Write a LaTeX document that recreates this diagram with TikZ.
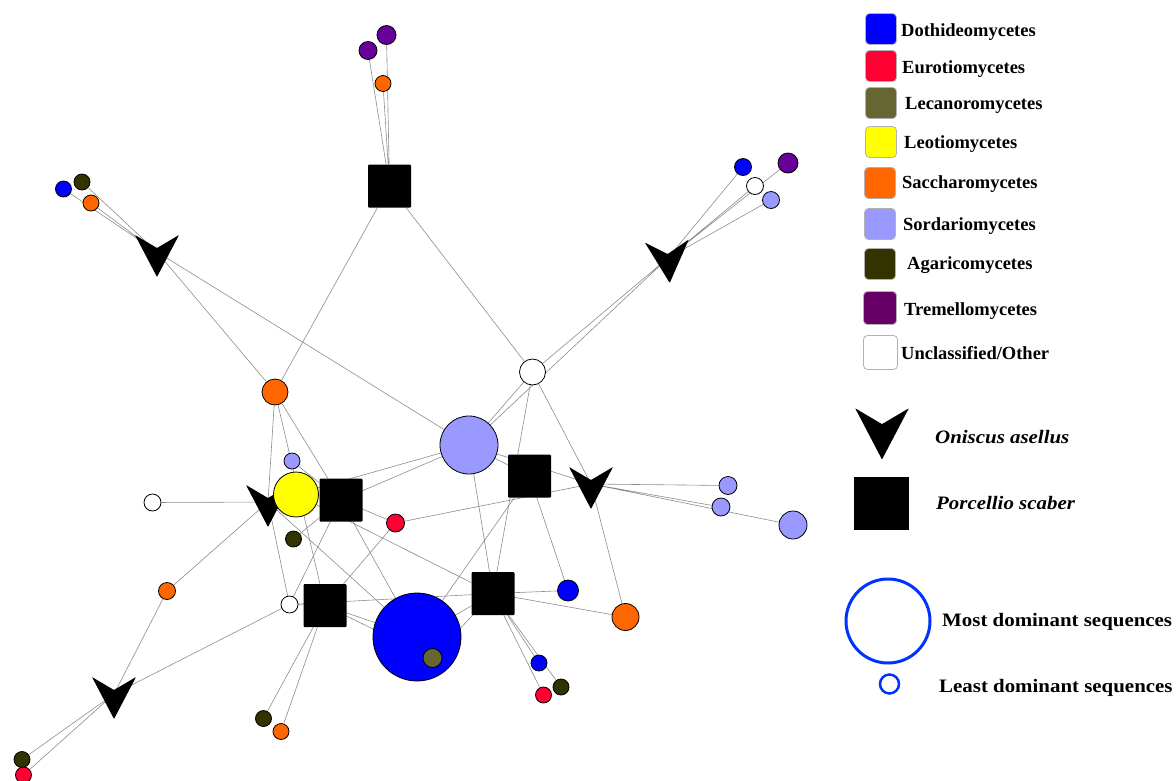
\documentclass[tikz,border=0pt]{standalone}
\usepackage{fontspec}
\setmainfont{Liberation Serif}
\newfontfamily\widefam[FakeStretch=1.1]{Liberation Serif}
\usetikzlibrary{backgrounds}

\definecolor{dothi}{RGB}{0,0,255}
\definecolor{euro}{RGB}{255,0,51}
\definecolor{lecan}{RGB}{102,102,51}
\definecolor{leot}{RGB}{255,255,0}
\definecolor{sacch}{RGB}{255,102,0}
\definecolor{sorda}{RGB}{153,153,255}
\definecolor{agari}{RGB}{51,51,0}
\definecolor{treme}{RGB}{102,0,153}
\definecolor{tremkey}{RGB}{102,0,102}
\definecolor{linkgray}{RGB}{140,140,140}
\definecolor{domblue}{RGB}{0,51,255}

\begin{document}
\begin{tikzpicture}[x=1pt,y=-1pt,
    otu/.style={circle,draw=black,line width=0.8pt,inner sep=0pt,minimum size=#1},
    otu/.default=16pt,
    porc/.style={fill=black,rounded corners=1pt,inner sep=0pt,minimum size=43pt},
    onis/.style={coordinate},
    link/.style={draw=linkgray,line width=0.6pt},
    key/.style={draw=gray!60,rounded corners=4pt,minimum size=31pt,inner sep=0pt,line width=0.8pt},
    lab/.style={anchor=base west,inner sep=0pt,font=\bfseries\fontsize{18.5}{20}\selectfont},
    widelab/.style={anchor=base west,inner sep=0pt,font=\widefam\bfseries\fontsize{19}{21}\selectfont},
    italab/.style={anchor=base west,inner sep=0pt,font=\widefam\bfseries\itshape\fontsize{19}{21}\selectfont},
    pics/chevron/.style={code={\fill[black,rounded corners=0.6pt] (-22,-17) -- (0,-4) -- (22,-17) -- (0,25) -- cycle;}}]
  \useasboundingbox (0,0) rectangle (1176,780);

  % isopod samples
  \node[porc] (s1) at (389.5, 186) {};
  \node[porc] (s2) at (529.5, 476) {};
  \node[porc] (s3) at (341, 500) {};
  \node[porc] (s4) at (325, 605.5) {};
  \node[porc] (s5) at (493, 593.5) {};
  \node[onis] (v1) at (157, 252) {};
  \node[onis] (v2) at (668, 258) {};
  \node[onis] (v3) at (268, 502) {};
  \node[onis] (v4) at (591, 484) {};
  \node[onis] (v5) at (114, 694) {};
  \pic at (v1) {chevron};
  \pic[rotate=4] at (v2) {chevron};
  \pic at (v3) {chevron};
  \pic at (v4) {chevron};
  \pic at (v5) {chevron};

  % fungal sequences
  \node[otu=19pt, fill=treme] (t1) at (386.5, 35) {};
  \node[otu=18pt, fill=treme] (t2) at (368, 50.5) {};
  \node[otu, fill=sacch] (t3) at (383, 83.5) {};
  \node[otu, fill=dothi] (a1) at (63.5, 189) {};
  \node[otu, fill=agari] (a2) at (82, 182) {};
  \node[otu, fill=sacch] (a3) at (91, 203) {};
  \node[otu=17pt, fill=dothi] (b1) at (743, 167) {};
  \node[otu=20pt, fill=treme] (b2) at (788, 163) {};
  \node[otu=17pt, fill=white] (b3) at (755, 186) {};
  \node[otu=17pt, fill=sorda] (b4) at (771, 200) {};
  \node[otu=26pt, fill=sacch] (o1) at (275, 392) {};
  \node[otu=26pt, fill=white] (u1) at (532.5, 372) {};
  \node[otu=58pt, fill=sorda] (sb) at (469, 445) {};
  \node[otu, fill=sorda] (ss) at (292, 461) {};
  \node[otu=45pt, fill=leot] (y) at (296, 494.5) {};
  \node[otu=17pt, fill=white] (u2) at (152.5, 502.5) {};
  \node[otu=18pt, fill=euro] (r1) at (395.5, 523) {};
  \node[otu, fill=agari] (g1) at (293.5, 539) {};
  \node[otu=17pt, fill=sacch] (o2) at (167, 591) {};
  \node[otu=17pt, fill=white] (u3) at (289.5, 604.5) {};
  \node[otu=88pt, fill=dothi] (bb) at (417, 637) {};
  \node[otu=19pt, fill=lecan] (l) at (432.5, 658) {};
  \node[otu=18pt, fill=sorda] (c1) at (728, 485.5) {};
  \node[otu=18pt, fill=sorda] (c2) at (721, 507) {};
  \node[otu=28pt, fill=sorda] (c3) at (793, 525) {};
  \node[otu=21pt, fill=dothi] (d1) at (568, 590.5) {};
  \node[otu=27pt, fill=sacch] (o3) at (625.5, 617) {};
  \node[otu, fill=dothi] (e1) at (539, 663) {};
  \node[otu, fill=euro] (e2) at (543.5, 695) {};
  \node[otu, fill=agari] (e3) at (561, 687) {};
  \node[otu, fill=agari] (f1) at (263.5, 718.5) {};
  \node[otu, fill=sacch] (f2) at (281, 731.5) {};
  \node[otu, fill=agari] (h1) at (22, 759.5) {};
  \node[otu, fill=euro] (h2) at (23.5, 775) {};

  \begin{scope}[on background layer]
    \draw[link] (s1) -- (t1) (s1) -- (t2) (s1) -- (t3) (s1) -- (o1) (s1) -- (u1);
    \draw[link] (v1) -- (a1) (v1) -- (a2) (v1) -- (a3) (v1) -- (o1) (v1) -- (sb);
    \draw[link] (v2) -- (b1) (v2) -- (b2) (v2) -- (b3) (v2) -- (b4) (v2) -- (u1) (v2) -- (sb);
    \draw[link] (u1) -- (sb) (u1) -- (v4) (u1) -- (s5);
    \draw[link] (o1) -- (v3) (o1) -- (s3) (o1) -- (s4) (ss) -- (s3);
    \draw[link] (v3) -- (u2) (v3) -- (o2) (v3) -- (u3) (v3) -- (bb) (v3) -- (y) (v3) -- (sb);
    \draw[link] (s3) -- (sb) (s3) -- (g1) (s3) -- (u3) (s3) -- (bb) (s3) -- (r1) (s3) -- (y);
    \draw[link] (y) -- (s5) (r1) -- (v4) (r1) -- (s4);
    \draw[link] (s2) -- (sb) (s2) -- (bb) (s2) -- (d1) (sb) -- (s5) (sb) -- (v4);
    \draw[link] (s4) -- (u3) (s4) -- (f1) (s4) -- (f2) (s4) -- (bb) (s4) -- (l);
    \draw[link] (u3) -- (v5) (u3) -- (s5);
    \draw[link] (s5) -- (bb) (s5) -- (l) (s5) -- (d1) (s5) -- (o3) (s5) -- (e1) (s5) -- (e2) (s5) -- (e3);
    \draw[link] (v4) -- (o3) (v4) -- (c1) (v4) -- (c2) (v4) -- (c3);
    \draw[link] (v5) -- (h1) (v5) -- (h2) (v5) -- (o2);
  \end{scope}

  % legend
  \node[key, fill=dothi] (k1) at (881, 29) {};
  \node[key, fill=euro] (k2) at (881, 66) {};
  \node[key, fill=lecan] (k3) at (881, 103) {};
  \node[key, fill=leot] (k4) at (881, 142) {};
  \node[key, fill=sacch] (k5) at (880, 183) {};
  \node[key, fill=sorda] (k6) at (880, 224) {};
  \node[key, fill=agari] (k7) at (880, 264) {};
  \node[key, fill=tremkey, minimum size=33pt] (k8) at (880, 308) {};
  \node[key, fill=white, minimum size=34pt] (k9) at (880.5, 352.5) {};
  \node[lab] (n1) at (901, 36) {Dothideomycetes};
  \node[lab] (n2) at (902, 73) {Eurotiomycetes};
  \node[lab] (n3) at (905, 109) {Lecanoromycetes};
  \node[lab] (n4) at (904, 148) {Leotiomycetes};
  \node[lab] (n5) at (902, 188) {Saccharomycetes};
  \node[lab] (n6) at (903, 230) {Sordariomycetes};
  \node[lab] (n7) at (907, 269) {Agaricomycetes};
  \node[lab] (n8) at (904, 315) {Tremellomycetes};
  \node[lab] (n9) at (901, 359) {Unclassified/Other};

  \node[onis] (ko) at (882, 429) {};
  \pic[scale=1.22] at (ko) {chevron};
  \node[fill=black, inner sep=0pt, minimum width=55pt, minimum height=53pt] (kp) at (881.5, 503.5) {};
  \node[italab] (no) at (935, 443) {Oniscus asellus};
  \node[italab] (np) at (936, 509) {Porcellio scaber};

  \node[circle, draw=domblue, line width=3pt, inner sep=0pt, minimum size=84pt] (km) at (888, 621) {};
  \node[circle, draw=domblue, line width=2.5pt, inner sep=0pt, minimum size=19pt] (kl) at (889.5, 684) {};
  \node[widelab] (nm) at (942, 626) {Most dominant sequences};
  \node[widelab] (nl) at (939, 692) {Least dominant sequences};
\end{tikzpicture}
\end{document}
